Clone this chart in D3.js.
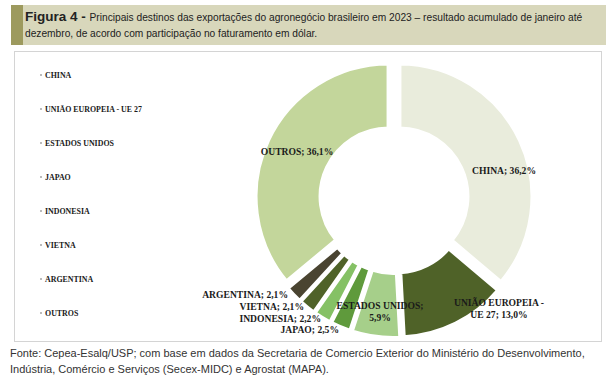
<!DOCTYPE html>
<html><head><meta charset="utf-8">
<script src="https://cdn.jsdelivr.net/npm/d3@7"></script>
<style>body{margin:0;background:#fff}svg{display:block}</style>
</head><body><svg id="c" width="615" height="382"></svg>
<script>
const categories = ["CHINA","UNIÃO EUROPEIA - UE 27","ESTADOS UNIDOS","JAPAO","INDONESIA","VIETNA","ARGENTINA","OUTROS"];
const values = [36.2, 13.0, 5.9, 2.5, 2.2, 2.1, 2.1, 36.1];
const valueLabels = ["36,2%","13,0%","5,9%","2,5%","2,2%","2,1%","2,1%","36,1%"];
const colors = ["#e9ecdc","#4f6228","#a6cf8a","#5f9a3c","#85c165","#4f6228","#4a4431","#c3d69b"];

const svg = d3.select("#c");
// title banner
svg.append("rect").attr("x",11).attr("y",5).attr("width",595).attr("height",40).attr("fill","#d8d7bb");
svg.append("rect").attr("x",11).attr("y",5).attr("width",12).attr("height",40).attr("fill","#9d9a5e");
const tf = "'Liberation Sans Narrow','Liberation Sans',sans-serif";
const t1 = svg.append("text").attr("x",25).attr("y",21).attr("font-family",tf).attr("fill","#222");
t1.append("tspan").attr("font-size",13.5).attr("font-weight","bold").text("Figura 4 - ");
t1.append("tspan").attr("font-size",10.2).text("Principais destinos das exportações do agronegócio brasileiro em 2023 – resultado acumulado de janeiro até");
svg.append("text").attr("x",25).attr("y",37).attr("font-family",tf).attr("font-size",10.2).attr("fill","#222")
  .text("dezembro, de acordo com participação no faturamento em dólar.");

// chart frame
svg.append("rect").attr("x",14.5).attr("y",51.5).attr("width",587).attr("height",290).attr("fill","#fff").attr("stroke","#d4d4d4");

// donut
const cx = 394, cy = 199, rOuter = 133, rInner = 68, explode = 6;
const pie = d3.pie().sort(null).value(d => d)(values);
const arc = d3.arc().innerRadius(rInner).outerRadius(rOuter);
const g = svg.append("g").attr("transform",`translate(${cx},${cy})`);
g.selectAll("path").data(pie).join("path")
  .attr("d", arc)
  .attr("transform", d => { const a=(d.startAngle+d.endAngle)/2; return `translate(${explode*Math.sin(a)},${-explode*Math.cos(a)})`; })
  .attr("fill",(d,i)=>colors[i]).attr("stroke","#fff").attr("stroke-width",4).attr("stroke-linejoin","miter");

// data labels
const lblFont = "'Liberation Serif','Times New Roman',serif";
const labels = [
  {i:0, x:504, y:174, anchor:"middle", lines:["CHINA; "+valueLabels[0]]},
  {i:7, x:297, y:155, anchor:"middle", lines:["OUTROS; "+valueLabels[7]]},
  {i:1, x:499, y:306, anchor:"middle", lines:["UNIÃO EUROPEIA  -","UE 27; "+valueLabels[1]]},
  {i:2, x:380, y:309, anchor:"middle", lines:["ESTADOS  UNIDOS;",valueLabels[2]]},
  {i:6, x:288, y:298, anchor:"end", lines:["ARGENTINA; "+valueLabels[6]]},
  {i:5, x:304, y:310, anchor:"end", lines:["VIETNA;  "+valueLabels[5]]},
  {i:4, x:321, y:322, anchor:"end", lines:["INDONESIA; "+valueLabels[4]]},
  {i:3, x:339, y:333, anchor:"end", lines:["JAPAO;  "+valueLabels[3]]}
];
labels.forEach(l => {
  const t = svg.append("text").attr("x",l.x).attr("y",l.y).attr("text-anchor",l.anchor)
    .attr("font-family",lblFont).attr("font-weight","bold").attr("font-size",9.6).attr("fill","#1a1a1a");
  l.lines.forEach((s,k)=> t.append("tspan").attr("x",l.x).attr("dy",k?12:0).text(s));
});

// legend
const lg = svg.append("g");
categories.forEach((c,i)=>{
  const y = 78 + i*34;
  lg.append("rect").attr("x",40).attr("y",y-4).attr("width",2).attr("height",2).attr("fill","#bbb");
  lg.append("text").attr("x",45).attr("y",y).attr("font-family",lblFont).attr("font-weight","bold")
    .attr("font-size",7.9).attr("fill","#1a1a1a").text(c);
});

// footer
const ff = "'Liberation Sans Narrow','Liberation Sans',sans-serif";
svg.append("text").attr("x",10).attr("y",357).attr("font-family",ff).attr("font-size",11).attr("fill","#333")
  .text("Fonte: Cepea-Esalq/USP; com base em dados da Secretaria de Comercio Exterior do Ministério do Desenvolvimento,");
svg.append("text").attr("x",10).attr("y",373).attr("font-family",ff).attr("font-size",11).attr("fill","#333")
  .text("Indústria, Comércio e Serviços (Secex-MIDC) e Agrostat (MAPA).");
</script></body></html>
